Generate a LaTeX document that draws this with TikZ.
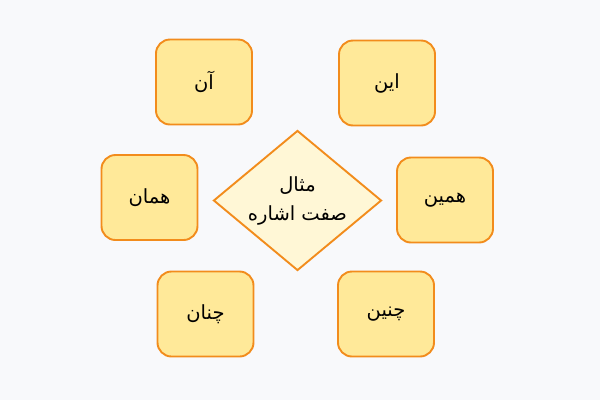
\documentclass[tikz,border=0pt]{standalone}
\usepackage{fontspec}
\TeXXeTstate=1
\newfontfamily\arabicfont[Script=Arabic]{DejaVu Sans}
\usetikzlibrary{shapes.geometric, positioning}
\definecolor{pagegray}{HTML}{F8F9FB}
\definecolor{boxfill}{HTML}{FFE999}
\definecolor{boxline}{HTML}{F28C1C}
\definecolor{diafill}{HTML}{FFF7D6}

\tikzset{
  wordbox/.style={draw=boxline, fill=boxfill, line width=1.9pt, rounded corners=14pt,
    minimum width=96pt, minimum height=85pt, inner sep=0pt,
    font=\arabicfont\fontsize{19.5}{24}\selectfont},
  hubbox/.style={diamond, aspect=1.2, draw=boxline, fill=diafill, line width=1.9pt,
    minimum width=168pt, minimum height=140pt, inner sep=0pt, align=center,
    font=\arabicfont\fontsize{19.5}{29}\selectfont}
}

\begin{document}
\begin{tikzpicture}[x=1pt, y=-1pt]
    % Background (fixes the page size)
    \fill[pagegray] (0,0) rectangle (600,400);

    % Centre diamond
    \node[hubbox] (hub) at (297.5,200.5) {\beginR مثال\endR\\\beginR صفت اشاره\endR};

    % Demonstrative words round it
    \node[wordbox] (an) at (204,82) {\beginR آن\endR};
    \node[wordbox] (in) at (387,83) {\beginR این\endR};
    \node[wordbox] (haman) at (149.5,197.5) {\beginR همان\endR};
    \node[wordbox] (hamin) at (445,200) {\beginR همین\endR};
    \node[wordbox] (chenan) at (205.5,314) {\beginR چنان\endR};
    \node[wordbox] (chenin) at (386,314) {\beginR چنین\endR};
\end{tikzpicture}
\end{document}
